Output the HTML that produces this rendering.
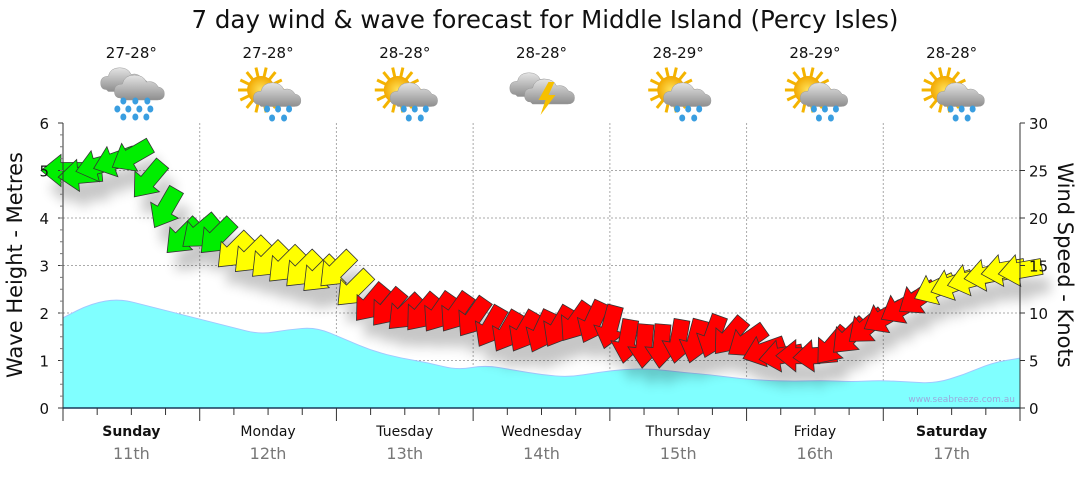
<!DOCTYPE html>
<html><head><meta charset="utf-8">
<style>
html,body{margin:0;padding:0;background:#fff;}
body{width:1080px;height:475px;overflow:hidden;font-family:"DejaVu Sans","Liberation Sans",sans-serif;}
</style></head>
<body>
<svg id="chart" width="1080" height="475" xmlns="http://www.w3.org/2000/svg" font-family="DejaVu Sans, Liberation Sans, sans-serif">
<defs>
<filter id="shadow" x="-50%" y="-50%" width="200%" height="200%"><feGaussianBlur stdDeviation="6"/></filter>
<radialGradient id="sunG"><stop offset="0" stop-color="#ffe25a"/><stop offset="1" stop-color="#f2a800"/></radialGradient>
<linearGradient id="cloudG" x1="0" y1="0" x2="0" y2="1"><stop offset="0" stop-color="#e4e4e4"/><stop offset="1" stop-color="#8e8e8e"/></linearGradient>
</defs>
<text x="545" y="28" text-anchor="middle" font-size="24.5" fill="#111">7 day wind &amp; wave forecast for Middle Island (Percy Isles)</text>
<g id="icons"></g>
<g id="grid"></g>
<path id="wave" fill="#80ffff" stroke="#a0c8ff" stroke-width="1"/>
<text x="1015" y="402" text-anchor="end" font-size="9" fill="#9ad">www.seabreeze.com.au</text>
<g id="shadows" filter="url(#shadow)" opacity="0.22"></g>
<g id="arrows"></g>
<g id="axes"></g>
<text transform="translate(22,265) rotate(-90)" text-anchor="middle" font-size="21" fill="#111">Wave Height - Metres</text>
<text transform="translate(1058,265) rotate(90)" text-anchor="middle" font-size="21" fill="#111">Wind Speed - Knots</text>
</svg>
<script>
const dayNames=["Sunday","Monday","Tuesday","Wednesday","Thursday","Friday","Saturday"];
const dayDates=["11th","12th","13th","14th","15th","16th","17th"];
const dayBold=[true,false,false,false,false,false,true];
const tempLabels=["27-28°","27-28°","28-28°","28-28°","28-29°","28-29°","28-28°"];
const iconTypes=["rain","sunrain","sunrain","storm","sunrain","sunrain","sunrain"];
const leftTicks=[0,1,2,3,4,5,6];
const rightTicks=[0,5,10,15,20,25,30];
const waveHeights=[1.9,2.2,2.3,2.15,2.0,1.85,1.7,1.55,1.65,1.7,1.45,1.2,1.05,0.95,0.8,0.9,0.8,0.7,0.65,0.75,0.82,0.82,0.75,0.7,0.62,0.58,0.56,0.58,0.55,0.58,0.55,0.52,0.7,0.95,1.05];
const windSpeeds=[25,24.5,25.5,26,26.5,24,21,18,18.5,18,16.5,16,15.5,15,14.5,14,14.5,12.5,11,10.5,10,10,10,10,9.5,8.5,8,8,8,8.5,9,9,8.5,7,6.5,6.5,7,7,7.5,7.5,7,6,5.5,5.5,5.5,6.5,7.5,8.5,9.5,10.5,11.5,12.5,13,13.5,14,14.5,14.5];
const windDirs=[90,85,75,70,60,40,30,45,50,45,45,45,45,45,45,45,45,45,40,40,45,40,35,35,35,30,30,30,25,30,35,25,15,10,5,5,10,15,20,40,55,70,80,90,85,40,45,50,60,60,55,65,70,75,80,80,80];

const NS="http://www.w3.org/2000/svg";
const X0=63,X1=1020,Y0=408,Y1=123;
const xDay=d=>X0+(X1-X0)*d/7;
const yM=m=>Y0-(Y0-Y1)*m/6;
const yK=k=>Y0-(Y0-Y1)*k/30;
function el(tag,attrs,parent,txt){const e=document.createElementNS(NS,tag);for(const k in attrs)e.setAttribute(k,attrs[k]);if(txt!==undefined)e.textContent=txt;parent.appendChild(e);return e;}
const grid=document.getElementById('grid'),axes=document.getElementById('axes');
for(let i=1;i<leftTicks.length-1;i++){const g=el('line',{x1:X0,x2:X1,y1:yM(leftTicks[i]),y2:yM(leftTicks[i]),stroke:'#aaa','stroke-dasharray':'2,2'},grid);
}
for(let d=1;d<7;d++){const g=el('line',{x1:xDay(d),x2:xDay(d),y1:Y1,y2:Y0,stroke:'#aaa','stroke-dasharray':'2,2'},grid);
}
const wp=waveHeights.map((h,i)=>[X0+(X1-X0)*i/(waveHeights.length-1),yM(h)]);
let p=`M${X0},${Y0} L${wp[0][0]},${wp[0][1]}`;
for(let i=1;i<wp.length;i++){const mx=(wp[i-1][0]+wp[i][0])/2,my=(wp[i-1][1]+wp[i][1])/2;p+=` Q${wp[i-1][0]},${wp[i-1][1]} ${mx},${my}`;}
p+=` L${wp[wp.length-1][0]},${wp[wp.length-1][1]} L${X1},${Y0} Z`;
document.getElementById('wave').setAttribute('d',p);
let a=el('line',{x1:X0,x2:X0,y1:Y1,y2:Y0,stroke:'#333'},axes);
a=el('line',{x1:X1,x2:X1,y1:Y1,y2:Y0,stroke:'#333'},axes);
a=el('line',{x1:X0,x2:X1,y1:Y0,y2:Y0,stroke:'#1a3a5a','stroke-width':1.5},axes);
leftTicks.forEach(v=>{const t=el('text',{x:X0-14,y:yM(v)+6,'text-anchor':'end','font-size':15,fill:'#111'},axes,String(v));

el('line',{x1:X0-5,x2:X0,y1:yM(v),y2:yM(v),stroke:'#333'},axes);});
for(let m=0.25;m<6;m+=0.25)el('line',{x1:X0-3,x2:X0,y1:yM(m),y2:yM(m),stroke:'#777'},axes);
rightTicks.forEach(v=>{const t=el('text',{x:X1+9,y:yK(v)+6,'font-size':15,fill:'#111'},axes,String(v));

el('line',{x1:X1,x2:X1+5,y1:yK(v),y2:yK(v),stroke:'#333'},axes);});
for(let q=0;q<=28;q++){const x=X0+(X1-X0)*q/28;el('line',{x1:x,x2:x,y1:Y0,y2:Y0+(q%4==0?13:7),stroke:'#333'},axes);}
dayNames.forEach((n,d)=>{const cx=xDay(d+0.5);
let t=el('text',{x:cx,y:436,'text-anchor':'middle','font-size':14,fill:'#111','font-weight':dayBold[d]?'bold':'normal'},axes,n);

t=el('text',{x:cx,y:459,'text-anchor':'middle','font-size':16,fill:'#777'},axes,dayDates[d]);
});
const icons=document.getElementById('icons');
function cloud(g,x,y,s){const c=el('g',{transform:`translate(${x},${y}) scale(${s})`},g);
el('path',{d:'M-20,8 Q-26,8 -26,1 Q-26,-6 -18,-6 Q-16,-15 -6,-15 Q3,-15 6,-8 Q14,-10 18,-3 Q24,-2 24,4 Q24,10 17,10 L-18,10 Z',fill:'url(#cloudG)',stroke:'#999','stroke-width':0.5},c);}
function drops(g,x,y,rows){for(const [dx,dy] of rows)el('ellipse',{cx:x+dx,cy:y+dy,rx:3,ry:3.5,fill:'#3a9ee0'},g);}
function sun(g,x,y){for(let i=0;i<14;i++){const an=i*Math.PI/7;el('line',{x1:x+Math.cos(an)*12,y1:y+Math.sin(an)*12,x2:x+Math.cos(an)*23,y2:y+Math.sin(an)*23,stroke:'#f4b400','stroke-width':3},g);}
el('circle',{cx:x,cy:y,r:14,fill:'url(#sunG)'},g);}
iconTypes.forEach((t,d)=>{const cx=xDay(d+0.5);
const tl=el('text',{x:cx,y:58,'text-anchor':'middle','font-size':15,fill:'#111'},icons,tempLabels[d]);

const g=el('g',{},icons);
if(t=='rain'){cloud(g,cx-6,82,0.95);cloud(g,cx+9,90,1.0);drops(g,cx,101,[[-8,0],[4,0],[16,0],[-14,8],[-3,8],[8,8],[19,8],[-8,16],[4,16],[15,16]]);}
else if(t=='storm'){cloud(g,cx-7,87,0.95);cloud(g,cx+9,94,1.0);el('polygon',{points:`${cx+7},82 ${cx-3},100 ${cx+4},100 ${cx-1},115 ${cx+14},95 ${cx+7},95 ${cx+13},82`,fill:'#f6c000'},g);}
else{sun(g,cx-7,90);cloud(g,cx+10,97,0.95);drops(g,cx+10,109,[[-11,0],[0,0],[11,0],[-6,9],[6,9]]);}
});
const arrows=document.getElementById('arrows'),shadows=document.getElementById('shadows');
const shape='M22,0 L2,-16 L2,-8 L-22,-8 L-22,8 L2,8 L2,16 Z';
windSpeeds.forEach((k,i)=>{
const x=X0+(X1-X0)*i/(windSpeeds.length-1),y=yK(k);
const ang=windDirs[i]+90;
const col=k>=17?'#00ee00':(k>=12?'#ffff00':'#ff0000');
const s=el('path',{d:shape,transform:`translate(${x+8},${y+18}) rotate(${ang})`,fill:'#000'},shadows);

const ar=el('path',{d:shape,transform:`translate(${x},${y}) rotate(${ang})`,fill:col,stroke:'#333','stroke-width':0.8},arrows);

});
</script>
</body></html>
